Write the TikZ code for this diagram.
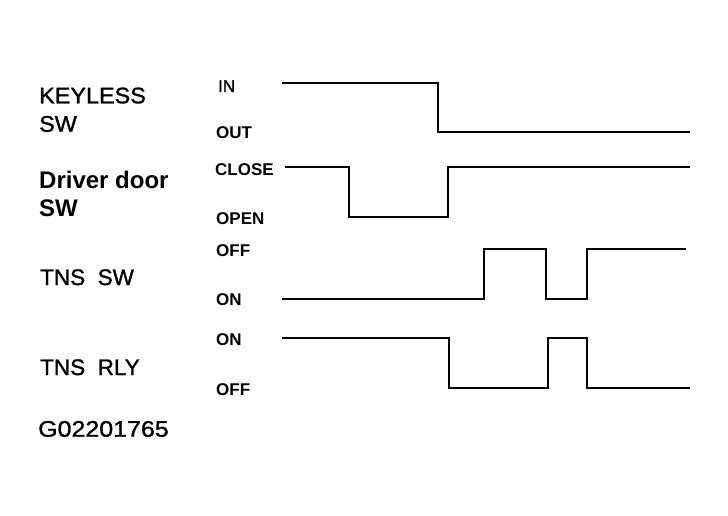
\documentclass[tikz,border=0pt]{standalone}
\usepackage{fontspec}
\setmainfont{Liberation Sans}
\newfontfamily\medfont{Liberation Sans}[FakeBold=1.2]
\begin{document}
\begin{tikzpicture}[x=1pt,y=-1pt,
  sig/.style={line width=2pt, line join=miter},
  lab/.style={anchor=base west, inner sep=0pt, font=\fontsize{22.5}{24}\selectfont\medfont},
  blab/.style={anchor=base west, inner sep=0pt, font=\fontsize{24}{26}\selectfont\bfseries},
  lvl/.style={anchor=base west, inner sep=0pt, font=\fontsize{17}{19}\selectfont\bfseries}]
\useasboundingbox (0,0) rectangle (728,516);
% left labels
\node[lab] (k1) at (39,103.3) {\scalebox{1.04}[1]{KEYLESS}};
\node[lab] (k2) at (39,131.7) {\scalebox{1.04}[1]{SW}};
\node[blab] (d1) at (39,188.3) {Driver door};
\node[blab] (d2) at (39,216.7) {SW};
\node[lab] (t1) at (40,285) {TNS\ \ SW};
\node[lab] (r1) at (40,375) {TNS\ \ RLY};
\node[lab] (g1) at (38,436.7) {\scalebox{1.11}[1]{G02201765}};
% level labels
\node[lvl, font=\fontsize{17}{19}\selectfont\medfont] (lin) at (218,92) {IN};
\node[lvl] (lout) at (216,139) {OUT};
\node[lvl] (lclose) at (215,175.5) {CLOSE};
\node[lvl] (lopen) at (216,224.5) {OPEN};
\node[lvl] (loff1) at (216,256.5) {OFF};
\node[lvl] (lon1) at (216,305.5) {ON};
\node[lvl] (lon2) at (216,345.5) {ON};
\node[lvl] (loff2) at (216,395.5) {OFF};
% waveforms
\draw[sig] (282,83) -- (438,83) -- (438,132) -- (690,132);
\draw[sig] (285,167) -- (349,167) -- (349,217) -- (448,217) -- (448,167) -- (690,167);
\draw[sig] (282,299) -- (484,299) -- (484,249) -- (546,249) -- (546,299) -- (587,299) -- (587,249) -- (686,249);
\draw[sig] (282,338) -- (449,338) -- (449,388) -- (548,388) -- (548,338) -- (587,338) -- (587,388) -- (690,388);
\end{tikzpicture}
\end{document}
